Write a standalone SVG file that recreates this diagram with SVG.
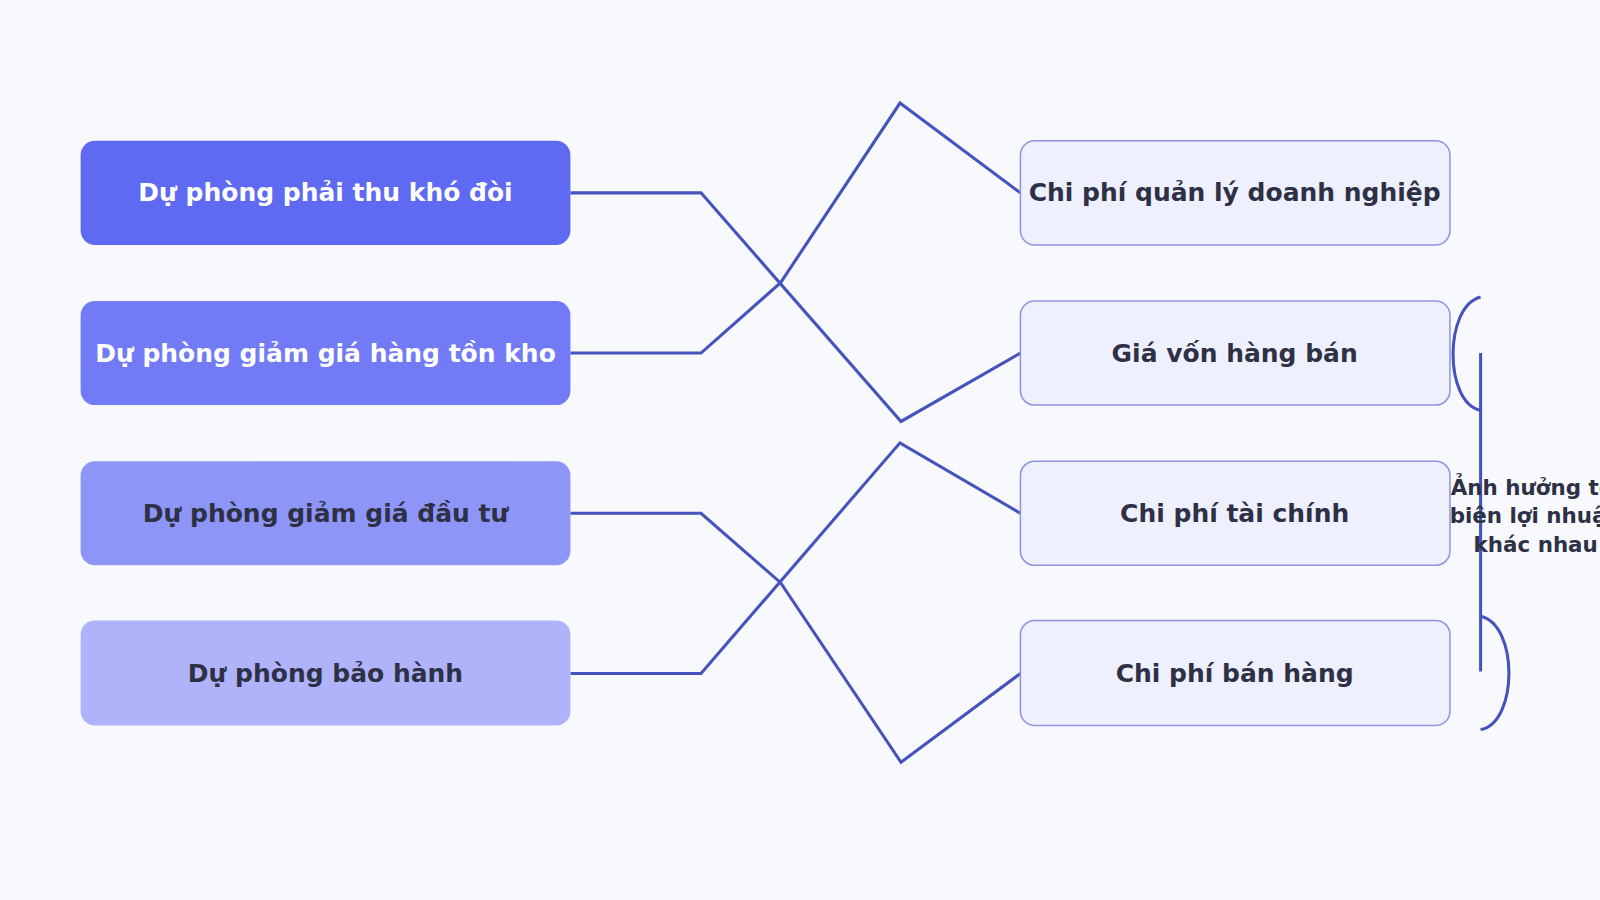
<svg xmlns="http://www.w3.org/2000/svg" width="1600" height="900" viewBox="0 0 1600 900">
<style>
.t{font-family:"DejaVu Sans",sans-serif;font-weight:bold;font-size:24.5px;text-anchor:middle;dominant-baseline:central}
.w{fill:#ffffff}.d{fill:#2e3045}
.r{fill:#eef0fd;stroke:#8d94e6;stroke-width:1.5}
.c{fill:none;stroke:#4453bd;stroke-width:3}
.n{font-family:"DejaVu Sans",sans-serif;font-weight:bold;font-size:21px;text-anchor:middle;fill:#2e3045}
</style>
<rect width="1600" height="900" fill="#f8f9fc"/>
<g transform="scale(1.0204)">
<g id="connectors">
<polyline class="c" points="559,189 687,189 883,413 1000,346"/>
<polyline class="c" points="559,346 687,346 765,277 882,101 1000,189"/>
<polyline class="c" points="559,503 687,503 765,571 883,747 1000,660"/>
<polyline class="c" points="559,660 687,660 882,434 1000,503"/>
<path class="c" d="M1451,291 C1415,300 1415,395 1451,402"/>
<line class="c" x1="1451" y1="346" x2="1451" y2="658"/>
<path class="c" d="M1451,604 C1488,612 1488,708 1451,715"/>
</g>
<g id="l1"><rect x="79" y="138" width="480" height="102" rx="14" fill="#5f6af3"/><text class="t w" x="319" y="189">Dự phòng phải thu khó đòi</text></g>
<g id="l2"><rect x="79" y="295" width="480" height="102" rx="14" fill="#727bf5"/><text class="t w" x="319" y="346">Dự phòng giảm giá hàng tồn kho</text></g>
<g id="l3"><rect x="79" y="452" width="480" height="102" rx="14" fill="#8d95f7"/><text class="t d" x="319" y="503">Dự phòng giảm giá đầu tư</text></g>
<g id="l4"><rect x="79" y="608" width="480" height="103" rx="14" fill="#aeb3fa"/><text class="t d" x="319" y="660">Dự phòng bảo hành</text></g>
<g id="r1"><rect class="r" x="1000" y="138" width="421" height="102" rx="14"/><text class="t d" x="1210" y="189">Chi phí quản lý doanh nghiệp</text></g>
<g id="r2"><rect class="r" x="1000" y="295" width="421" height="102" rx="14"/><text class="t d" x="1210" y="346">Giá vốn hàng bán</text></g>
<g id="r3"><rect class="r" x="1000" y="452" width="421" height="102" rx="14"/><text class="t d" x="1210" y="503">Chi phí tài chính</text></g>
<g id="r4"><rect class="r" x="1000" y="608" width="421" height="103" rx="14"/><text class="t d" x="1210" y="660">Chi phí bán hàng</text></g>
<g id="note"><text class="n"><tspan x="1505" y="485">Ảnh hưởng tới</tspan><tspan x="1505" y="513">biên lợi nhuận</tspan><tspan x="1505" y="541">khác nhau</tspan></text></g>
</g>
</svg>
